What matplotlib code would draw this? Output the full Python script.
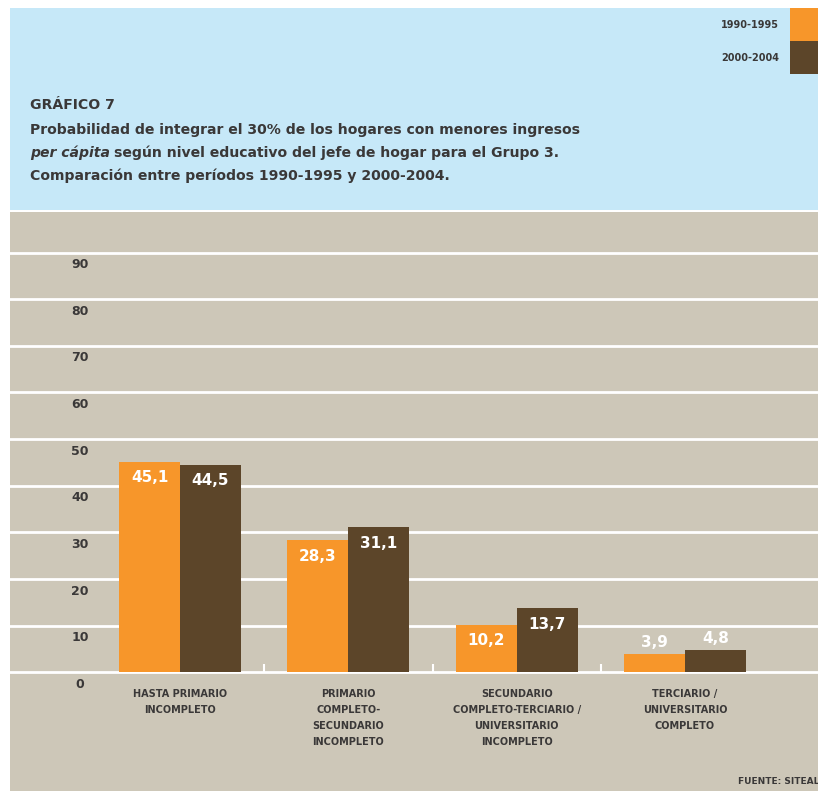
import numpy as np
import matplotlib
matplotlib.use('Agg')
import matplotlib.pyplot as plt
from matplotlib.patches import Rectangle

# --- data ---
categories = ['HASTA PRIMARIO\nINCOMPLETO',
              'PRIMARIO\nCOMPLETO-\nSECUNDARIO\nINCOMPLETO',
              'SECUNDARIO\nCOMPLETO-TERCIARIO /\nUNIVERSITARIO\nINCOMPLETO',
              'TERCIARIO /\nUNIVERSITARIO\nCOMPLETO']
series_names = ['1990-1995', '2000-2004']
values_1990 = [45.1, 28.3, 10.2, 3.9]
values_2000 = [44.5, 31.1, 13.7, 4.8]
y_ticks = [0, 10, 20, 30, 40, 50, 60, 70, 80, 90]

ORANGE = '#F7962A'
BROWN = '#5C4529'
BLUE = '#C6E8F8'
TAN = '#CDC7B8'
DARK = '#3A3838'
FONT = ['DejaVu Sans Condensed', 'Liberation Sans Narrow', 'DejaVu Sans']
TS = 10.1  # title size

W, H = 818, 791
fig = plt.figure(figsize=(W / 100, H / 100), dpi=100)
fig.patch.set_facecolor('white')

def fx(px):
    return px / W

def fy(py):
    return 1 - py / H

# blue header band
fig.patches.append(Rectangle((fx(10), fy(210)), 1 - fx(10), fy(8) - fy(210),
                             transform=fig.transFigure, facecolor=BLUE,
                             edgecolor='none', zorder=0))

# legend squares + labels
for i, (name, col) in enumerate(zip(series_names, [ORANGE, BROWN])):
    top = 8 + i * 33
    fig.patches.append(Rectangle((fx(790), fy(top + 33)), 1 - fx(790), fy(top) - fy(top + 33),
                                 transform=fig.transFigure, facecolor=col,
                                 edgecolor='none', zorder=1))
    fig.text(fx(779), fy(25 + i * 33), name, ha='right', va='center',
             fontsize=7, fontweight='bold', color=DARK, family=FONT)

# title
fig.text(fx(30), fy(105), 'GRÁFICO 7', ha='left', va='center',
         fontsize=TS, fontweight='bold', color=DARK, family=FONT)
fig.text(fx(30), fy(130), 'Probabilidad de integrar el 30% de los hogares con menores ingresos',
         ha='left', va='center', fontsize=TS, fontweight='bold', color=DARK, family=FONT)
t_it = fig.text(fx(30), fy(153), 'per cápita', ha='left', va='center', fontsize=TS,
                fontweight='bold', fontstyle='italic', color=DARK, family=FONT)
fig.text(fx(30), fy(176), 'Comparación entre períodos 1990-1995 y 2000-2004.',
         ha='left', va='center', fontsize=TS, fontweight='bold', color=DARK, family=FONT)
fig.canvas.draw()
bb = t_it.get_window_extent()
fig.text(bb.x1 / W + fx(4), fy(153), 'según nivel educativo del jefe de hogar para el Grupo 3.',
         ha='left', va='center', fontsize=TS, fontweight='bold', color=DARK, family=FONT)

# chart area
ax = fig.add_axes([fx(10), 0, 1 - fx(10), fy(212)])
ax.set_facecolor(TAN)
for s in ax.spines.values():
    s.set_visible(False)
ax.set_xticks([])
ax.set_yticks([])
ax.set_xlim(-1.01, 3.79)
ax.set_ylim(-25.5, 98.7)

for v in y_ticks:
    ax.axhline(v, color='white', lw=2, zorder=1)
    ax.text(-0.594, v - 2.6, str(v), ha='center', va='center', fontsize=9,
            fontweight='bold', color=DARK, family=FONT)

x = np.arange(len(categories))
bw = 0.362
b1 = ax.bar(x - bw / 2, values_1990, bw, color=ORANGE, zorder=2)
b2 = ax.bar(x + bw / 2, values_2000, bw, color=BROWN, zorder=2)

# separators between groups at the baseline
ax.vlines(x[:-1] + 0.5, 0, 1.8, color='white', lw=1.5, zorder=3)

for bars, vals in [(b1, values_1990), (b2, values_2000)]:
    for r, v in zip(bars, vals):
        lbl = f'{v:.1f}'.replace('.', ',')
        cx = r.get_x() + r.get_width() / 2
        if v > 8:
            ax.text(cx, v - 1.8, lbl, ha='center', va='top', fontsize=11,
                    fontweight='bold', color='white', family=FONT, zorder=4)
        else:
            ax.text(cx, v + 0.8, lbl, ha='center', va='bottom', fontsize=11,
                    fontweight='bold', color='white', family=FONT, zorder=4)

for xi, cat in zip(x, categories):
    ax.text(xi, -3.6, cat, ha='center', va='top', fontsize=7, fontweight='bold',
            color=DARK, family=FONT, linespacing=1.75)

fig.text(fx(738), fy(782), 'FUENTE: SITEAL', ha='left', va='center', fontsize=6.5,
         fontweight='bold', color=DARK, family=FONT)

fig.savefig('out.png', dpi=100)
